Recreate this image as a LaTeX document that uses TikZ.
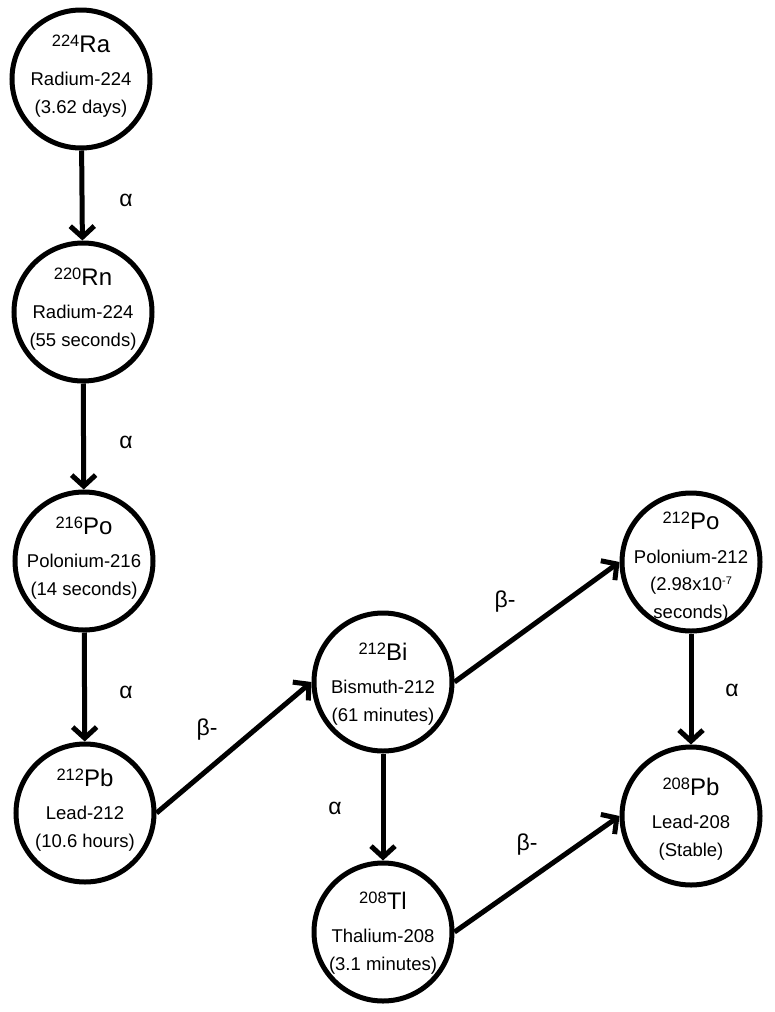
\documentclass[tikz,border=0pt]{standalone}
\usepackage{fontspec}
\setmainfont{Liberation Sans}
\usetikzlibrary{arrows.meta}
\newcommand{\nucl}[2]{{\fontsize{16.5}{16.5}\selectfont\raisebox{6pt}{#1}}{\fontsize{24}{24}\selectfont #2}}
\newcommand{\smallsup}[1]{\raisebox{6.5pt}{\fontsize{11}{11}\selectfont #1}}
\tikzset{
  iso/.style={circle, draw=black, line width=5pt, minimum size=138pt, inner sep=0pt},
  txt/.style={align=center, font=\fontsize{18.5}{27.5}\selectfont, inner sep=0pt},
  decay/.style={line width=5pt, -{Straight Barb[length=11pt,width=24pt]}},
  lbl/.style={font=\fontsize{23}{23}\selectfont, inner sep=0pt}
}
\begin{document}
\begin{tikzpicture}[x=1pt,y=1pt]
\useasboundingbox (0,0) rectangle (774,-1012);
% circles
\node[iso] (ra) at (81,-79) {};
\node[iso] (rn) at (83,-312) {};
\node[iso] (po216) at (84,-561) {};
\node[iso] (pb212) at (85,-813) {};
\node[iso] (bi) at (383,-682) {};
\node[iso] (tl) at (383,-932) {};
\node[iso] (po212) at (691,-562) {};
\node[iso] (pb208) at (691,-816) {};
% texts
\node[txt, yshift=3pt] (ra-t) at (ra) {\nucl{224}{Ra}\\[6pt] Radium-224\\ (3.62 days)};
\node[txt, yshift=3pt] (rn-t) at (rn) {\nucl{220}{Rn}\\[6pt] Radium-224\\ (55 seconds)};
\node[txt, yshift=3pt] (po216-t) at (po216) {\nucl{216}{Po}\\[6pt] Polonium-216\\ (14 seconds)};
\node[txt, yshift=3pt] (pb212-t) at (pb212) {\nucl{212}{Pb}\\[6pt] Lead-212\\ (10.6 hours)};
\node[txt, yshift=-2pt] (bi-t) at (bi) {\nucl{212}{Bi}\\[6pt] Bismuth-212\\ (61 minutes)};
\node[txt, yshift=-1pt] (tl-t) at (tl) {\nucl{208}{Tl}\\[6pt] Thalium-208\\ (3.1 minutes)};
\node[txt, yshift=-3pt] (pb208-t) at (pb208) {\nucl{208}{Pb}\\[6pt] Lead-208\\ (Stable)};
\node[txt, yshift=-5pt] (po212-t) at (po212) {\nucl{212}{Po}\\[6pt] Polonium-212\\ (2.98x10\smallsup{-7}\\ seconds)};
% connectors
\draw[decay] (ra) -- (rn);
\draw[decay] (rn) -- (po216);
\draw[decay] (po216) -- (pb212);
\draw[decay] (pb212.east) -- (bi.west);
\draw[decay] (bi.east) -- (po212.west);
\draw[decay] (bi) -- (tl);
\draw[decay] (po212) -- (pb208);
\draw[decay] (tl.east) -- (pb208.west);
% labels
\node[lbl] (a1) at (126,-200) {α};
\node[lbl] (a2) at (126,-442) {α};
\node[lbl] (a3) at (126,-692) {α};
\node[lbl] (a4) at (335,-808) {α};
\node[lbl] (a5) at (732,-690) {α};
\node[lbl] (b1) at (207,-730) {β-};
\node[lbl] (b2) at (505,-602) {β-};
\node[lbl] (b3) at (527,-845) {β-};
\end{tikzpicture}
\end{document}
